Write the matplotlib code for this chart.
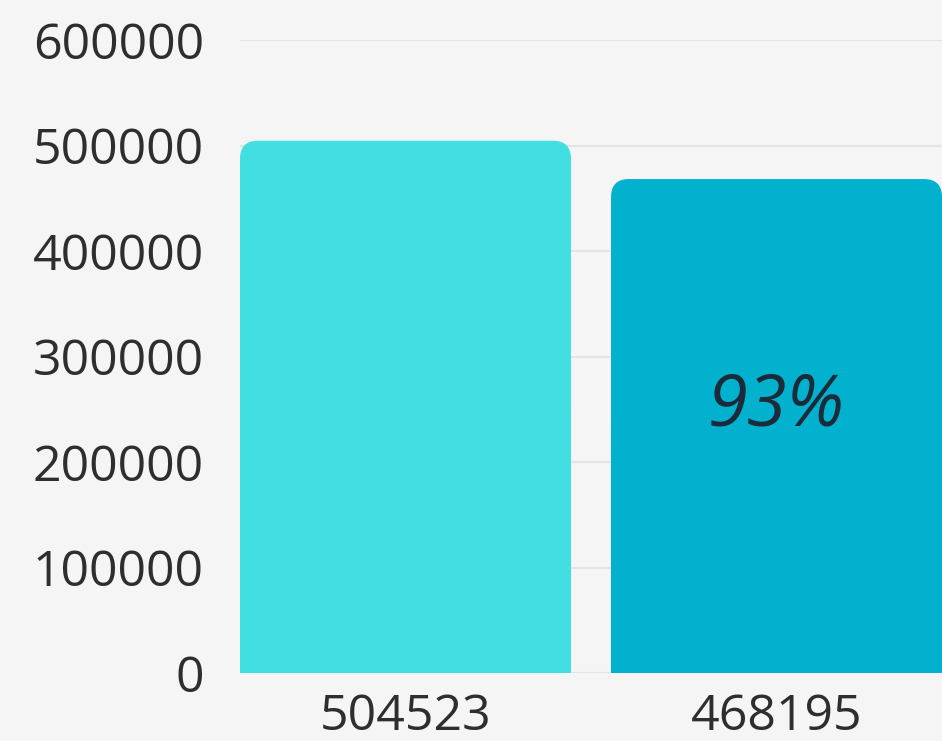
import matplotlib.pyplot as plt
from matplotlib.patches import FancyBboxPatch, Rectangle

## data
labels = ["504523", "468195"]
values = [504523, 468195]
colors = ["#42DFE2", "#01B1CD"]
pct_text = "93%"
y_ticks = [0, 100000, 200000, 300000, 400000, 500000, 600000]

plt.rcParams['font.family'] = ['Open Sans', 'DejaVu Sans']

fig = plt.figure(figsize=(9.42, 7.41), dpi=100)
fig.patch.set_facecolor("#F5F5F5")
ax = fig.add_axes([240 / 942, (741 - 673) / 741, (942 - 240) / 942, 633 / 741])
ax.set_facecolor("#F5F5F5")

w = 0.892
ymax = 600000
ax.set_xlim(-w / 2, 1 + w / 2)
ax.set_ylim(0, ymax)

# rounded top corners: round box plus a plain rectangle over the lower half
px_x = (1 + w) / 702.0
px_y = ymax / 633.0
r = 18 * px_x
for i, v in enumerate(values):
    ax.add_patch(FancyBboxPatch((i - w / 2, 0), w, v,
                                boxstyle=f"round,pad=0,rounding_size={r}",
                                mutation_aspect=px_y / px_x,
                                facecolor=colors[i], edgecolor="none", zorder=2))
    ax.add_patch(Rectangle((i - w / 2, 0), w, v / 2,
                           facecolor=colors[i], edgecolor="none", zorder=2))

ax.text(1, values[1] * 0.54, pct_text, ha="center", va="center",
        fontsize=52, style="italic", color="#1B2B3A", zorder=3)

ax.set_yticks(y_ticks)
ax.set_yticklabels([str(t) for t in y_ticks])
ax.set_xticks([0, 1])
ax.set_xticklabels(labels)
ax.tick_params(axis="y", length=0, pad=26, labelsize=36, labelcolor="#2E2E2E")
ax.tick_params(axis="x", length=0, pad=14, labelsize=36, labelcolor="#2E2E2E")
ax.grid(axis="y", color="#E4E4E4", linewidth=1.6, zorder=0)
ax.set_axisbelow(True)
for s in ['top', 'bottom', 'left', 'right']:
    ax.spines[s].set_visible(False)

fig.savefig("out.png", dpi=100, facecolor=fig.get_facecolor())
